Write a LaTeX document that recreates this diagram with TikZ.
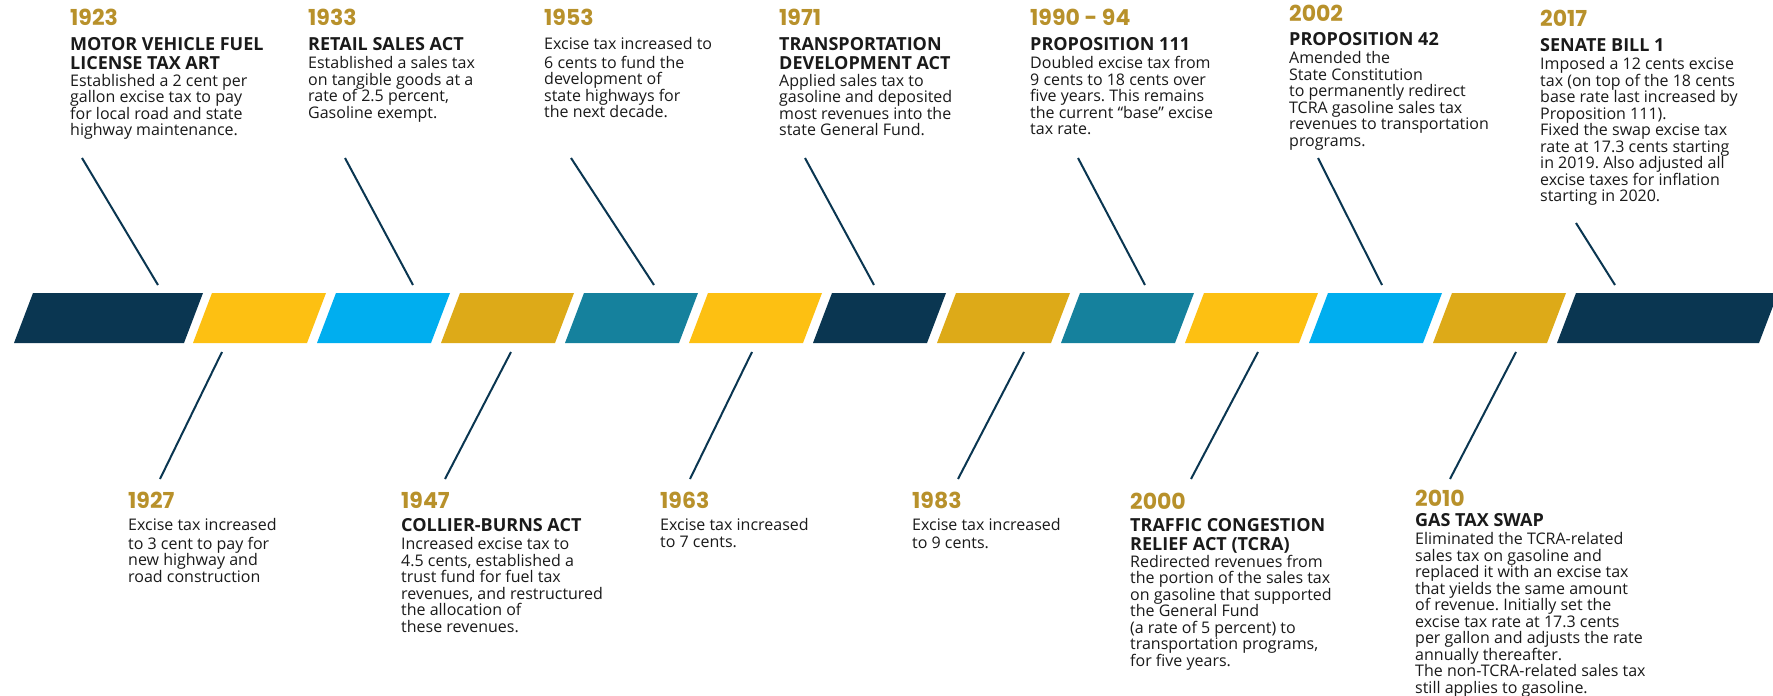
\documentclass[tikz,border=0pt]{standalone}
\usepackage{fontspec}
\setmainfont{Open Sans}
\newfontfamily\yearfont{Poppins}
\frenchspacing
\definecolor{navy}{HTML}{0A3651}
\definecolor{ylw}{HTML}{FDC012}
\definecolor{sky}{HTML}{00AEEF}
\definecolor{gld}{HTML}{DDAA18}
\definecolor{tl}{HTML}{15819D}
\definecolor{yrc}{HTML}{B8912B}
\definecolor{txt}{HTML}{1A1A1A}
\newcommand\ttl[1]{{\fontsize{18}{16.5}\selectfont\bfseries #1}}
\begin{document}
\begin{tikzpicture}[x=1pt,y=-1pt,
  yr/.style={anchor=west, inner sep=0, text=yrc, font=\yearfont\bfseries\fontsize{22}{22}\selectfont},
  blk/.style={anchor=north west, inner sep=0, align=left, text=txt, font=\frenchspacing\fontsize{16}{16.5}\selectfont},
  conn/.style={draw=navy, line width=2}]
\useasboundingbox (0,0) rectangle (1773,696);
\fill[white] (0,0) rectangle (1773,696);
\begin{scope}
\clip (0,0) rectangle (1773,696);
% bar segments
\fill[navy] (33,293) -- (203,293) -- (184,343) -- (14,343) -- cycle;
\foreach \l/\c in {212/ylw,336/sky,460/gld,584/tl,708/ylw,832/navy,956/gld,1080/tl,1204/ylw,1328/sky,1452/gld}
  \fill[\c] (\l,293) -- ++(114,0) -- ++(-19,50) -- ++(-114,0) -- cycle;
\fill[navy] (1576,293) -- (1778,293) -- (1759,343) -- (1557,343) -- cycle;
\end{scope}
% connector end points
\coordinate (a1) at (82,158);   \coordinate (b1) at (158,285);
\coordinate (a2) at (345,158);  \coordinate (b2) at (413,285);
\coordinate (a3) at (571,158);  \coordinate (b3) at (654,285);
\coordinate (a4) at (805,158);  \coordinate (b4) at (874,285);
\coordinate (a5) at (1078,158); \coordinate (b5) at (1145,285);
\coordinate (a6) at (1318,158); \coordinate (b6) at (1382,285);
\coordinate (a7) at (1576,223); \coordinate (b7) at (1615,285);
\coordinate (c1) at (222,352);  \coordinate (d1) at (160,479);
\coordinate (c2) at (511,352);  \coordinate (d2) at (445,479);
\coordinate (c3) at (752,352);  \coordinate (d3) at (690,479);
\coordinate (c4) at (1024,352); \coordinate (d4) at (958,479);
\coordinate (c5) at (1258,352); \coordinate (d5) at (1191,479);
\coordinate (c6) at (1516,352); \coordinate (d6) at (1450,479);
\foreach \i in {1,...,7} \draw[conn] (a\i) -- (b\i);
\foreach \i in {1,...,6} \draw[conn] (c\i) -- (d\i);
% top texts
\node[yr] (y1923) at (70,17) {1923};
\node[blk] (t1923) at (70,37.5) {\strut\ttl{MOTOR VEHICLE FUEL}\\\ttl{LICENSE TAX ART}\\Established a 2 cent per\\gallon excise tax to pay\\for local road and state\\highway maintenance.};
\node[yr] (y1933) at (308,17) {1933};
\node[blk] (t1933) at (308,37.5) {\strut\ttl{RETAIL SALES ACT}\\Established a sales tax\\on tangible goods at a\\rate of 2.5 percent,\\Gasoline exempt.};
\node[yr] (y1953) at (544,17) {1953};
\node[blk] (t1953) at (544,37.5) {\strut Excise tax increased to\\6 cents to fund the\\development of\\state highways for\\the next decade.};
\node[yr] (y1971) at (779,17) {1971};
\node[blk] (t1971) at (779,37.5) {\strut\ttl{TRANSPORTATION}\\\ttl{DEVELOPMENT ACT}\\Applied sales tax to\\gasoline and deposited\\most revenues into the\\state General Fund.};
\node[yr] (y1990) at (1030,17) {1990 - 94};
\node[blk] (t1990) at (1030,37.5) {\strut\ttl{PROPOSITION 111}\\Doubled excise tax from\\9 cents to 18 cents over\\five years. This remains\\the current “base” excise\\tax rate.};
\node[yr] (y2002) at (1289,13) {2002};
\node[blk] (t2002) at (1289,32.5) {\strut\ttl{PROPOSITION 42}\\Amended the\\State Constitution\\to permanently redirect\\TCRA gasoline sales tax\\revenues to transportation\\programs.};
\node[yr] (y2017) at (1540,18) {2017};
\node[blk] (t2017) at (1540,38.5) {\strut\ttl{SENATE BILL 1}\\Imposed a 12 cents excise\\tax (on top of the 18 cents\\base rate last increased by\\Proposition 111).\\Fixed the swap excise tax\\rate at 17.3 cents starting\\in 2019. Also adjusted all\\excise taxes for inflation\\starting in 2020.};
% bottom texts
\node[yr] (y1927) at (128,500) {1927};
\node[blk] (t1927) at (128,518.5) {\strut Excise tax increased\\to 3 cent to pay for\\new highway and\\road construction};
\node[yr] (y1947) at (401,500) {1947};
\node[blk] (t1947) at (401,518.5) {\strut\ttl{COLLIER-BURNS ACT}\\Increased excise tax to\\4.5 cents, established a\\trust fund for fuel tax\\revenues, and restructured\\the allocation of\\these revenues.};
\node[yr] (y1963) at (660,500) {1963};
\node[blk] (t1963) at (660,518.5) {\strut Excise tax increased\\to 7 cents.};
\node[yr] (y1983) at (912,500) {1983};
\node[blk] (t1983) at (912,518.5) {\strut Excise tax increased\\to 9 cents.};
\node[yr] (y2000) at (1130,501) {2000};
\node[blk] (t2000) at (1130,518.5) {\strut\ttl{TRAFFIC CONGESTION}\\\ttl{RELIEF ACT (TCRA)}\\Redirected revenues from\\the portion of the sales tax\\on gasoline that supported\\the General Fund\\(a rate of 5 percent) to\\transportation programs,\\for five years.};
\node[yr] (y2010) at (1415,498) {2010};
\node[blk] (t2010) at (1415,513.5) {\strut\ttl{GAS TAX SWAP}\\Eliminated the TCRA-related\\sales tax on gasoline and\\replaced it with an excise tax\\that yields the same amount\\of revenue. Initially set the\\excise tax rate at 17.3 cents\\per gallon and adjusts the rate\\annually thereafter.\\The non-TCRA-related sales tax\\still applies to gasoline.};
\end{tikzpicture}
\end{document}
